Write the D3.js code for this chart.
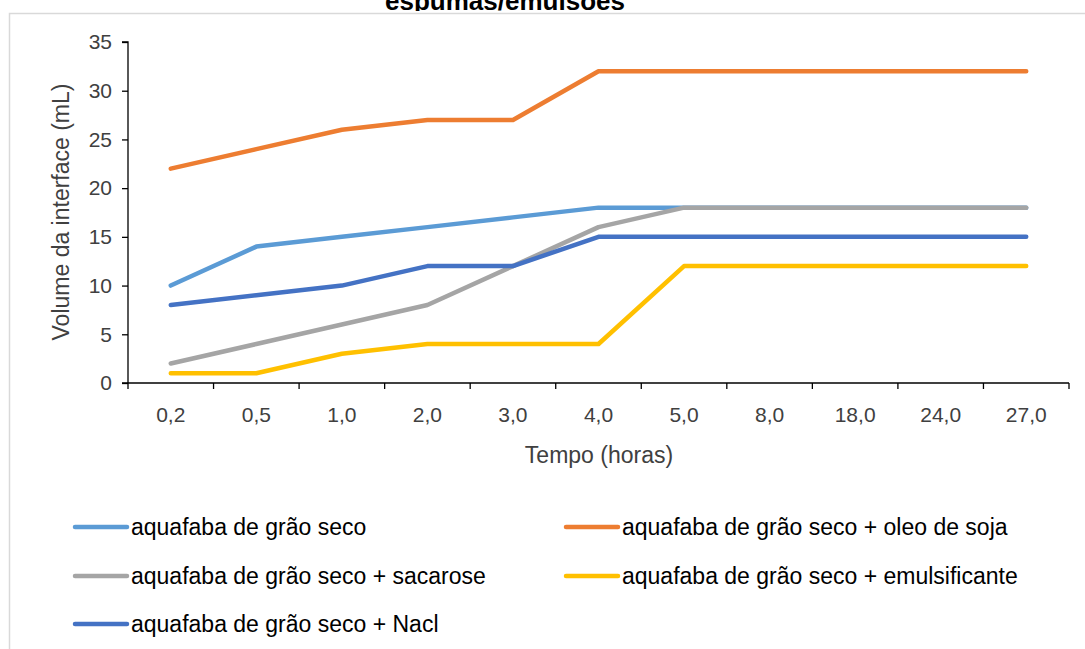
<!DOCTYPE html>
<html>
<head>
<meta charset="utf-8">
<script src="https://cdn.jsdelivr.net/npm/d3@7"></script>
<style>
  html, body { margin: 0; padding: 0; background: #fff; }
  svg { display: block; }
  text { font-family: "Liberation Sans", Arial, sans-serif; fill: #404040; }
</style>
</head>
<body>
<svg id="chart" width="1085" height="649"></svg>
<script>
// Time points (hours) on the category axis
const categories = ["0,2", "0,5", "1,0", "2,0", "3,0", "4,0", "5,0", "8,0", "18,0", "24,0", "27,0"];

// Interface volume (mL) for each formulation
const seco        = [10, 14, 15, 16, 17, 18, 18, 18, 18, 18, 18];
const secoOleo    = [22, 24, 26, 27, 27, 32, 32, 32, 32, 32, 32];
const secoSac     = [2, 4, 6, 8, 12, 16, 18, 18, 18, 18, 18];
const secoEmuls   = [1, 1, 3, 4, 4, 4, 12, 12, 12, 12, 12];
const secoNacl    = [8, 9, 10, 12, 12, 15, 15, 15, 15, 15, 15];

const seriesNames = [
  "aquafaba de grão seco",
  "aquafaba de grão seco + oleo de soja",
  "aquafaba de grão seco + sacarose",
  "aquafaba de grão seco + emulsificante",
  "aquafaba de grão seco + Nacl"
];
const yTicks = [0, 5, 10, 15, 20, 25, 30, 35];

const series = [
  { name: seriesNames[0], values: seco,      color: "#5B9BD5" },
  { name: seriesNames[1], values: secoOleo,  color: "#ED7D31" },
  { name: seriesNames[2], values: secoSac,   color: "#A5A5A5" },
  { name: seriesNames[3], values: secoEmuls, color: "#FFC000" },
  { name: seriesNames[4], values: secoNacl,  color: "#4472C4" }
];

const svg = d3.select("#chart");

// outer chart frame
svg.append("rect")
  .attr("x", 9.5).attr("y", 13.5)
  .attr("width", 1200).attr("height", 800)
  .attr("fill", "none").attr("stroke", "#d9d9d9").attr("stroke-width", 1.5);

// title: only the lower part of its last line falls inside the view
svg.append("clipPath").attr("id", "titleClip")
  .append("rect").attr("x", 0).attr("y", 0).attr("width", 1085).attr("height", 11);
svg.append("text")
  .attr("clip-path", "url(#titleClip)")
  .attr("x", 505).attr("y", 9.5)
  .attr("text-anchor", "middle")
  .style("font-weight", "bold")
  .style("font-size", "26px")
  .style("fill", "#000")
  .text("espumas/emulsões");

const plotL = 128, plotR = 1069, plotT = 42, plotB = 383;

const x = d3.scaleBand().domain(categories).range([plotL, plotR]).padding(0);
const y = d3.scaleLinear().domain([0, 35]).range([plotB, plotT]);

// y axis
const yAxis = svg.append("g")
  .attr("transform", `translate(${plotL},0)`)
  .call(d3.axisLeft(y).tickValues(yTicks).tickSize(6).tickPadding(10));
yAxis.select(".domain").attr("stroke", "#000").attr("stroke-width", 1.3).attr("d", `M-6,${plotT}H0V${plotB}`);
yAxis.selectAll(".tick line").attr("stroke", "#000").attr("stroke-width", 1.3);
yAxis.selectAll(".tick text")
  .style("font-family", "'Liberation Sans', Arial, sans-serif")
  .style("font-size", "21px").attr("fill", "#404040");

// x axis with tick marks on category boundaries
const xAxis = svg.append("g").attr("transform", `translate(0,${plotB})`);
xAxis.append("line")
  .attr("x1", plotL - 6).attr("x2", plotR).attr("y1", 0).attr("y2", 0)
  .attr("stroke", "#000").attr("stroke-width", 1.3);
const bounds = categories.map(c => x(c)).concat([plotR]);
xAxis.selectAll("line.tk").data(bounds).enter().append("line")
  .attr("class", "tk")
  .attr("x1", d => d).attr("x2", d => d).attr("y1", 0).attr("y2", 6)
  .attr("stroke", "#000").attr("stroke-width", 1.3);
xAxis.selectAll("text.lbl").data(categories).enter().append("text")
  .attr("class", "lbl")
  .attr("x", d => x(d) + x.bandwidth() / 2)
  .attr("y", 39)
  .attr("text-anchor", "middle")
  .style("font-size", "21px")
  .text(d => d);

// axis titles
svg.append("text")
  .attr("transform", `translate(69,212) rotate(-90)`)
  .attr("text-anchor", "middle")
  .style("font-size", "23px")
  .text("Volume da interface (mL)");
svg.append("text")
  .attr("x", 599).attr("y", 463)
  .attr("text-anchor", "middle")
  .style("font-size", "23px")
  .text("Tempo (horas)");

// series lines
const line = d3.line()
  .x((d, i) => x(categories[i]) + x.bandwidth() / 2)
  .y(d => y(d));

svg.append("g").selectAll("path").data(series).enter().append("path")
  .attr("d", d => line(d.values))
  .attr("fill", "none")
  .attr("stroke", d => d.color)
  .attr("stroke-width", 4.5)
  .attr("stroke-linejoin", "round")
  .attr("stroke-linecap", "round");

// legend
const legendPos = [
  [75, 527], [566, 527],
  [75, 576], [566, 576],
  [75, 624]
];
const lg = svg.append("g").selectAll("g").data(series).enter().append("g")
  .attr("transform", (d, i) => `translate(${legendPos[i][0]},${legendPos[i][1]})`);
lg.append("line")
  .attr("x1", 0).attr("x2", 52).attr("y1", 0).attr("y2", 0)
  .attr("stroke", d => d.color).attr("stroke-width", 4.5).attr("stroke-linecap", "round");
lg.append("text")
  .attr("x", 56).attr("y", 8)
  .style("font-size", "23px")
  .style("fill", "#000")
  .text(d => d.name);
</script>
</body>
</html>
